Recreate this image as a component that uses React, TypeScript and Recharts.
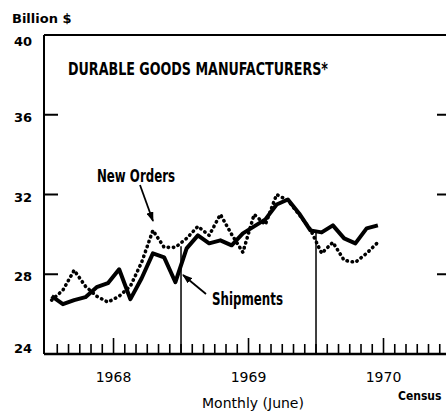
import { LineChart, Line, XAxis, YAxis, ReferenceLine } from 'recharts'

// Jan 1968 .. Jun 1970, one value per month (billion $)
const months = [
  'Jan 68', 'Feb 68', 'Mar 68', 'Apr 68', 'May 68', 'Jun 68', 'Jul 68', 'Aug 68', 'Sep 68', 'Oct 68', 'Nov 68', 'Dec 68',
  'Jan 69', 'Feb 69', 'Mar 69', 'Apr 69', 'May 69', 'Jun 69', 'Jul 69', 'Aug 69', 'Sep 69', 'Oct 69', 'Nov 69', 'Dec 69',
  'Jan 70', 'Feb 70', 'Mar 70', 'Apr 70', 'May 70', 'Jun 70'
]

const shipments = [
  26.9, 26.5, 26.7, 26.85, 27.35, 27.55, 28.25, 26.75, 27.8, 29.05, 28.85, 27.6,
  29.3, 29.95, 29.55, 29.7, 29.45, 30.05, 30.4, 30.75, 31.5, 31.75, 31.05, 30.2,
  30.1, 30.45, 29.8, 29.55, 30.3, 30.45
]

const newOrders = [
  26.7, 27.2, 28.2, 27.4, 26.9, 26.6, 26.9, 27.4, 28.6, 30.2, 29.35, 29.35,
  29.8, 30.4, 29.95, 31.0, 30.0, 29.1, 31.0, 30.5, 32.0, 31.7, 31.0, 30.25,
  29.05, 29.6, 28.7, 28.6, 29.05, 29.6
]

const yTicks = [24, 28, 32, 36, 40]
const yearLabels: Record<number, string> = { 6: '1968', 18: '1969', 30: '1970' }
const monthTicks = Array.from({ length: 37 }, (_, i) => i)

// vertical markers at year ends, drawn up to the series
const dividers = [
  { m: 12, top: 29.4 },
  { m: 24, top: 30.1 }
]

const data = months.map((label, i) => ({
  label,
  m: i + 0.5,
  shipments: shipments[i],
  newOrders: newOrders[i]
}))

const CONDENSED = '"Liberation Sans Narrow", "DejaVu Sans Condensed", "Roboto Condensed", "Liberation Sans", sans-serif'
const ROUND = '"DejaVu Sans", Verdana, sans-serif'

const LeftTick = ({ x, y, payload }: any) => {
  const v = payload.value
  const shift = v === 40 ? 11 : v === 24 ? -1 : 7
  return (
    <g>
      {v !== 24 && v !== 40 && (
        <line x1={x} y1={y} x2={x + 14} y2={y} stroke="#000" strokeWidth={2} />
      )}
      <text x={x - 12} y={y + shift} textAnchor="end" fontFamily={ROUND} fontWeight="bold" fontSize={13} fill="#000">
        {v}
      </text>
    </g>
  )
}

const RightTick = ({ x, y, payload }: any) => {
  const v = payload.value
  if (v === 24 || v === 40) return <g />
  return <line x1={x} y1={y} x2={x - 14} y2={y} stroke="#000" strokeWidth={2} />
}

const MonthTick = ({ x, y, payload }: any) => {
  const v = payload.value
  if (v === 0) return <g />
  const h = v % 12 === 6 ? 16 : 10
  const label = yearLabels[v]
  return (
    <g>
      <line x1={x} y1={y} x2={x} y2={y - h} stroke="#000" strokeWidth={1.6} />
      {label && (
        <text x={x} y={y + 28} textAnchor="middle" fontFamily={ROUND} fontSize={14} fill="#000">
          {label}
        </text>
      )}
    </g>
  )
}

export default function App() {
  return (
    <div style={{ position: 'absolute', left: 0, top: 0, width: 446, height: 413, overflow: 'hidden', background: '#fff' }}>
      <LineChart width={460} height={413} data={data} margin={{ top: 35, right: 0, bottom: 0, left: 0 }}>
        <XAxis
          dataKey="m"
          type="number"
          domain={[-0.18, 36]}
          ticks={monthTicks}
          interval={0}
          tickSize={0}
          tickMargin={0}
          tickLine={false}
          tick={MonthTick}
          height={59}
          axisLine={{ stroke: '#000', strokeWidth: 2.5 }}
          allowDataOverflow
        />
        <YAxis
          yAxisId="left"
          domain={[24, 40]}
          ticks={yTicks}
          interval={0}
          tickSize={0}
          tickMargin={0}
          tickLine={false}
          tick={LeftTick}
          width={44}
          axisLine={{ stroke: '#000', strokeWidth: 2 }}
          allowDataOverflow
        />
        <YAxis
          yAxisId="right"
          orientation="right"
          domain={[24, 40]}
          ticks={yTicks}
          interval={0}
          tickSize={0}
          tickMargin={0}
          tickLine={false}
          tick={RightTick}
          width={9}
          axisLine={{ stroke: '#000', strokeWidth: 2 }}
          allowDataOverflow
        />
        <ReferenceLine yAxisId="left" y={40} stroke="#000" strokeWidth={2} />
        {dividers.map(d => (
          <ReferenceLine
            key={d.m}
            yAxisId="left"
            segment={[{ x: d.m, y: 24 }, { x: d.m, y: d.top }]}
            stroke="#000"
            strokeWidth={1.5}
          />
        ))}
        <Line
          yAxisId="left"
          dataKey="newOrders"
          stroke="#000"
          strokeWidth={3.6}
          strokeDasharray="0.4 4.8"
          strokeLinecap="round"
          dot={false}
          isAnimationActive={false}
        />
        <Line
          yAxisId="left"
          dataKey="shipments"
          stroke="#000"
          strokeWidth={4}
          strokeLinejoin="round"
          dot={false}
          isAnimationActive={false}
        />
      </LineChart>

      <svg width={446} height={413} style={{ position: 'absolute', left: 0, top: 0, pointerEvents: 'none' }}>
        <defs>
          <marker id="head" markerWidth="10" markerHeight="7" refX="9" refY="3.5" orient="auto" markerUnits="userSpaceOnUse">
            <path d="M0,0 L10,3.5 L0,7 z" fill="#000" />
          </marker>
        </defs>
        <text x={12} y={23} fontFamily={ROUND} fontWeight="bold" fontSize={13} fill="#000">Billion $</text>
        <text x={68} y={75} fontFamily={CONDENSED} fontWeight="bold" fontSize={18} textLength={260} lengthAdjust="spacingAndGlyphs" fill="#000">
          DURABLE GOODS MANUFACTURERS*
        </text>
        <text x={97} y={182} fontFamily={CONDENSED} fontWeight="bold" fontSize={17} textLength={78} lengthAdjust="spacingAndGlyphs" fill="#000">
          New Orders
        </text>
        <line x1={140} y1={185} x2={153} y2={221} stroke="#000" strokeWidth={1.8} markerEnd="url(#head)" />
        <text x={212} y={305} fontFamily={CONDENSED} fontWeight="bold" fontSize={17} textLength={71} lengthAdjust="spacingAndGlyphs" fill="#000">
          Shipments
        </text>
        <line x1={206} y1={294} x2={183} y2={275} stroke="#000" strokeWidth={1.8} markerEnd="url(#head)" />
        <text x={253} y={408} textAnchor="middle" fontFamily={ROUND} fontSize={14} fill="#000">
          Monthly (June)
        </text>
        <text x={398} y={400} fontFamily={CONDENSED} fontWeight="bold" fontSize={12} fill="#000">
          Census
        </text>
      </svg>
    </div>
  )
}
